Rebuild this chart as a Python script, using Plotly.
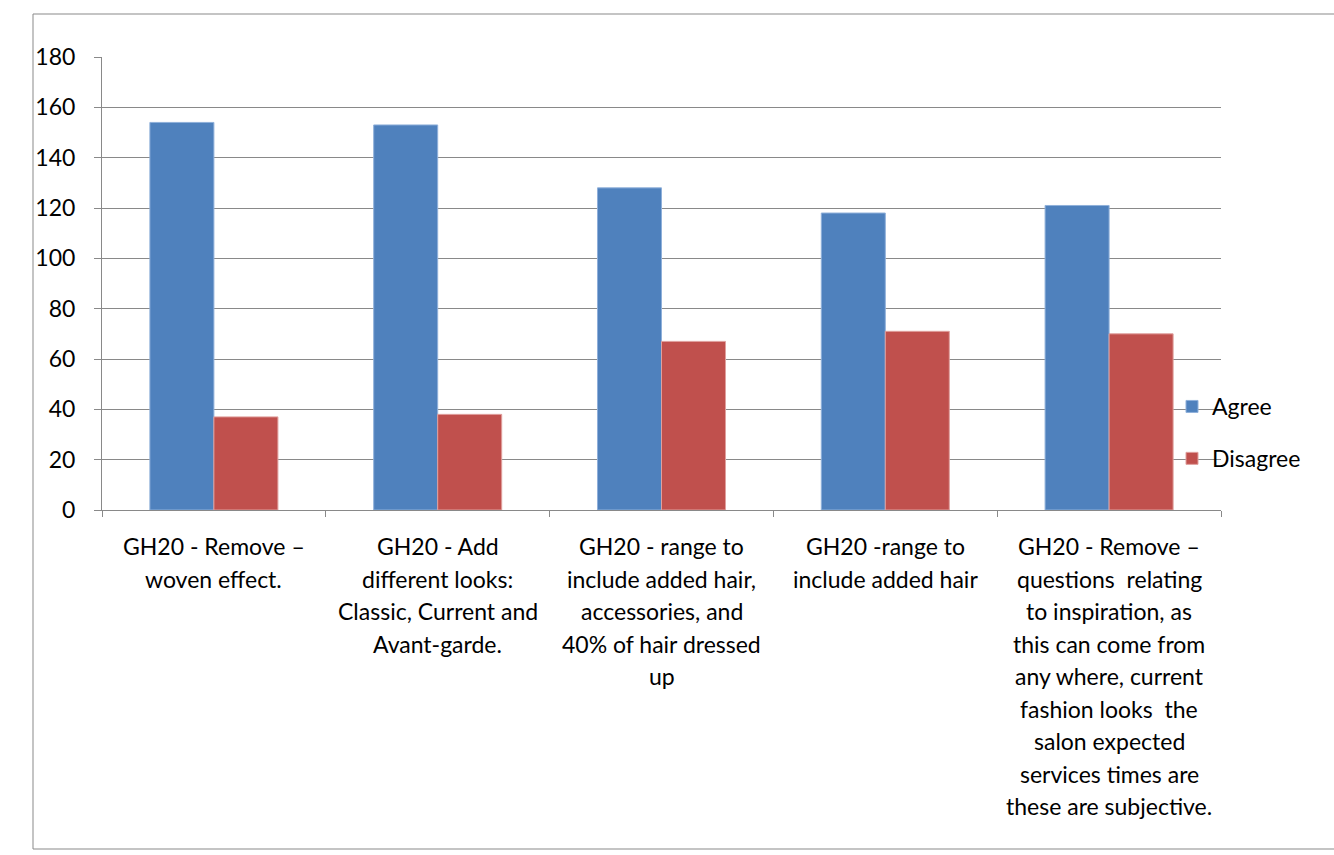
import plotly.graph_objects as go

categories = [
    "GH20 - Remove – woven effect.",
    "GH20 - Add different looks: Classic, Current and Avant-garde.",
    "GH20 - range to include added hair, accessories, and 40% of hair dressed up",
    "GH20 -range to include added hair",
    "GH20 - Remove – questions relating to inspiration, as this can come from any where, current fashion looks the salon expected services times are these are subjective.",
]
label_lines = [
    ["GH20 - Remove –", "woven effect."],
    ["GH20 - Add", "different looks:", "Classic, Current and", "Avant-garde."],
    ["GH20 - range to", "include added hair,", "accessories, and", "40% of hair dressed", "up"],
    ["GH20 -range to", "include added hair"],
    ["GH20 - Remove –", "questions  relating", "to inspiration, as", "this can come from", "any where, current",
     "fashion looks  the", "salon expected", "services times are", "these are subjective."],
]
agree = [154, 153, 128, 118, 121]
disagree = [37, 38, 67, 71, 70]

FONT = "Lato"
FS = 23
grey = "#898989"

L, R, T, B = 102, 1221, 57, 510
W, H = 1334, 855
pw, ph = R - L, B - T

fig = go.Figure()
fig.add_trace(go.Bar(x=categories, y=agree, name="Agree", legendgroup="a",
                     marker=dict(color="#4F81BD", line=dict(color="#8FB0DA", width=1))))
fig.add_trace(go.Bar(x=categories, y=disagree, name="Disagree", legendgroup="d",
                     marker=dict(color="#C0504D", line=dict(color="#E0A09E", width=1))))

annotations = []
for cat, lines in zip(categories, label_lines):
    for j, line in enumerate(lines):
        annotations.append(dict(x=cat, xref="x", y=0, yref="y", yanchor="middle",
                                yshift=-(36 + j * 32.5), text=line, showarrow=False,
                                font=dict(family=FONT, size=FS, color="#000000")))

fig.update_layout(
    width=W, height=H,
    margin=dict(l=L, r=W - R, t=T, b=H - B),
    paper_bgcolor="white", plot_bgcolor="white",
    barmode="group", bargap=0.428, bargroupgap=0,
    font=dict(family=FONT, size=FS, color="#000000"),
    showlegend=True,
    legend=dict(x=(1172 - L) / pw, y=(B - 385) / ph, xanchor="left", yanchor="top",
                bgcolor="rgba(0,0,0,0)", traceorder="grouped", tracegroupgap=19,
                font=dict(family=FONT, size=FS)),
    annotations=annotations,
    shapes=[dict(type="rect", xref="paper", yref="paper",
                 x0=(33 - L) / pw, x1=(1345 - L) / pw,
                 y0=(B - 849) / ph, y1=(B - 14) / ph,
                 line=dict(color=grey, width=1), layer="below")],
)
fig.update_xaxes(showticklabels=False, ticks="outside", tickson="boundaries", ticklen=6,
                 tickcolor=grey, showline=True, linecolor=grey, linewidth=1,
                 showgrid=False, zeroline=False)
fig.update_yaxes(range=[0, 180], dtick=20, ticks="outside", ticklen=7, tickcolor=grey,
                 showline=True, linecolor=grey, linewidth=1, showgrid=True, gridcolor=grey,
                 gridwidth=1, zeroline=False, tickfont=dict(family=FONT, size=FS),
                 ticklabelstandoff=14)

fig.write_html("out.html", config={"displayModeBar": False},
               post_script="document.body.style.margin='0px';document.body.style.overflow='hidden';")
